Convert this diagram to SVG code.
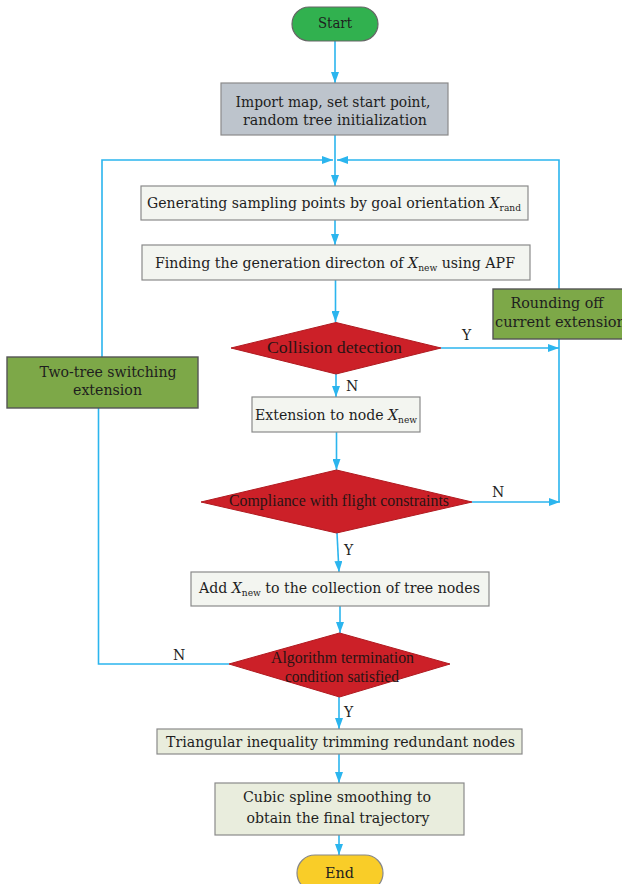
<svg xmlns="http://www.w3.org/2000/svg" width="622" height="884" viewBox="0 0 622 884">
<defs>
<marker id="ah" markerUnits="userSpaceOnUse" markerWidth="11" markerHeight="8" refX="11" refY="4" orient="auto">
<path d="M0,0 L11,4 L0,8 z" fill="#2bb5ee"/>
</marker>
<style>
.c{fill:none;stroke:#2bb5ee;stroke-width:1.6}
.box{stroke:#8a8a8a;stroke-width:1.2}
.light{fill:#f3f5f0}
.pale{fill:#e9eddd}
.olive{fill:#7da848;stroke:#555;stroke-width:1.4}
.dia{fill:#cc2028;stroke:#b01a20;stroke-width:1}
.t{font-family:"DejaVu Serif","Liberation Serif",serif;font-size:14px;fill:#1e1e1e}
.d{font-family:"Liberation Serif","DejaVu Serif",serif;font-size:17px;fill:#2a1414}
.l{font-family:"DejaVu Serif","Liberation Serif",serif;font-size:14px;fill:#1e1e1e}
.i{font-style:italic}
.s{font-size:9px}
</style>
</defs>
<rect width="622" height="884" fill="#ffffff"/>
<g id="connectors">
<line class="c" x1="335" y1="41" x2="335" y2="83" marker-end="url(#ah)"/>
<line class="c" x1="335" y1="135" x2="335" y2="186" marker-end="url(#ah)"/>
<polyline class="c" points="102,357 102,160 333,160" marker-end="url(#ah)"/>
<polyline class="c" points="559,502 559,160 337,160" marker-end="url(#ah)"/>
<line class="c" x1="335" y1="220" x2="335" y2="245" marker-end="url(#ah)"/>
<line class="c" x1="335.5" y1="280" x2="335.5" y2="322" marker-end="url(#ah)"/>
<line class="c" x1="441" y1="348" x2="559" y2="348" marker-end="url(#ah)"/>
<line class="c" x1="336" y1="374" x2="336" y2="397" marker-end="url(#ah)"/>
<line class="c" x1="336.5" y1="432" x2="336.5" y2="470" marker-end="url(#ah)"/>
<line class="c" x1="472" y1="502" x2="560" y2="502" marker-end="url(#ah)"/>
<line class="c" x1="337" y1="533" x2="339" y2="572" marker-end="url(#ah)"/>
<line class="c" x1="340" y1="606" x2="340" y2="633" marker-end="url(#ah)"/>
<polyline class="c" points="229,664 98.5,664 98.5,408"/>
<line class="c" x1="339" y1="697" x2="339" y2="729" marker-end="url(#ah)"/>
<line class="c" x1="339" y1="754" x2="339" y2="783" marker-end="url(#ah)"/>
<line class="c" x1="339" y1="835" x2="339" y2="855" marker-end="url(#ah)"/>
<text class="l" x="462" y="340">Y</text>
<text class="l" x="346" y="391">N</text>
<text class="l" x="492" y="497">N</text>
<text class="l" x="344" y="555">Y</text>
<text class="l" x="173" y="660">N</text>
<text class="l" x="344" y="717">Y</text>
</g>
<g id="start">
<rect x="292" y="7" width="86" height="34" rx="17" fill="#31b14f" stroke="#666" stroke-width="1.2"/>
<text class="t" x="335" y="28" text-anchor="middle" textLength="34" lengthAdjust="spacingAndGlyphs">Start</text>
</g>
<g id="import">
<rect class="box" x="221" y="83" width="227" height="52" fill="#bdc4cc"/>
<text class="t" x="333" y="107" text-anchor="middle" textLength="195" lengthAdjust="spacingAndGlyphs">Import map, set start point,</text>
<text class="t" x="335" y="125" text-anchor="middle" textLength="184" lengthAdjust="spacingAndGlyphs">random tree initialization</text>
</g>
<g id="generate">
<rect class="box light" x="141" y="186" width="387" height="34"/>
<text class="t" x="147" y="208" textLength="374" lengthAdjust="spacingAndGlyphs">Generating sampling points by goal orientation <tspan class="i">X</tspan><tspan class="s" dy="3">rand</tspan></text>
</g>
<g id="finding">
<rect class="box light" x="142" y="245" width="388" height="35"/>
<text class="t" x="155" y="268" textLength="360" lengthAdjust="spacingAndGlyphs">Finding the generation directon of <tspan class="i">X</tspan><tspan class="s" dy="3">new</tspan><tspan dy="-3"> using APF</tspan></text>
</g>
<g id="rounding">
<rect class="olive" x="493" y="289" width="132" height="50"/>
<text class="t" x="557" y="308" text-anchor="middle" textLength="93" lengthAdjust="spacingAndGlyphs">Rounding off</text>
<text class="t" x="495" y="327" textLength="131" lengthAdjust="spacingAndGlyphs">current extension</text>
</g>
<g id="twotree">
<rect class="olive" x="7" y="357" width="191" height="51"/>
<text class="t" x="108" y="377" text-anchor="middle" textLength="137" lengthAdjust="spacingAndGlyphs">Two-tree switching</text>
<text class="t" x="107.5" y="395" text-anchor="middle" textLength="69" lengthAdjust="spacingAndGlyphs">extension</text>
</g>
<g id="collision">
<polygon class="dia" points="231,348 336,322.5 441,348 336,374"/>
<text class="d" x="334.5" y="353" text-anchor="middle" textLength="135" lengthAdjust="spacingAndGlyphs">Collision detection</text>
</g>
<g id="extension">
<rect class="box light" x="252" y="397" width="168" height="35"/>
<text class="t" x="255" y="420" textLength="162" lengthAdjust="spacingAndGlyphs">Extension to node <tspan class="i">X</tspan><tspan class="s" dy="3">new</tspan></text>
</g>
<g id="compliance">
<polygon class="dia" points="201,502 336.5,470 472,502 336.5,533"/>
<text class="d" x="339" y="506" text-anchor="middle" textLength="220" lengthAdjust="spacingAndGlyphs">Compliance with flight constraints</text>
</g>
<g id="add">
<rect class="box light" x="191" y="572" width="298" height="34"/>
<text class="t" x="199" y="593" textLength="281" lengthAdjust="spacingAndGlyphs">Add <tspan class="i">X</tspan><tspan class="s" dy="3">new</tspan><tspan dy="-3"> to the collection of tree nodes</tspan></text>
</g>
<g id="algorithm">
<polygon class="dia" points="229,664 339.5,633 450,664 339.5,697"/>
<text class="d" x="342.5" y="663" text-anchor="middle" textLength="143" lengthAdjust="spacingAndGlyphs">Algorithm termination</text>
<text class="d" x="342" y="682" text-anchor="middle" textLength="114" lengthAdjust="spacingAndGlyphs">condition satisfied</text>
</g>
<g id="triangular">
<rect class="box pale" x="157" y="729" width="365" height="25"/>
<text class="t" x="340.5" y="747" text-anchor="middle" textLength="349" lengthAdjust="spacingAndGlyphs">Triangular inequality trimming redundant nodes</text>
</g>
<g id="cubic">
<rect class="box pale" x="215" y="783" width="249" height="52"/>
<text class="t" x="337" y="802" text-anchor="middle" textLength="188" lengthAdjust="spacingAndGlyphs">Cubic spline smoothing to</text>
<text class="t" x="338" y="823" text-anchor="middle" textLength="183" lengthAdjust="spacingAndGlyphs">obtain the final trajectory</text>
</g>
<g id="end">
<rect x="297" y="855" width="86" height="36" rx="18" fill="#f9cd28" stroke="#888" stroke-width="1.2"/>
<text class="t" x="339.5" y="878" text-anchor="middle" textLength="29" lengthAdjust="spacingAndGlyphs">End</text>
</g>
</svg>
